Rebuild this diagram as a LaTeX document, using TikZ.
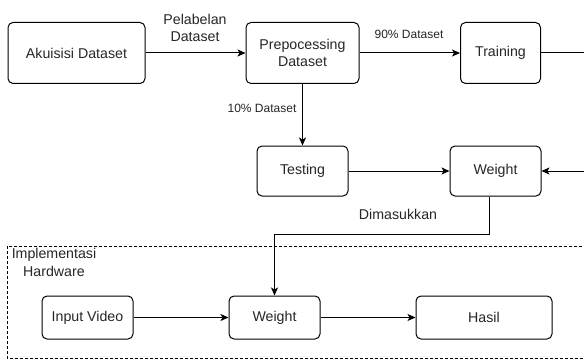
\documentclass[tikz,border=0pt]{standalone}
\usepackage{fontspec}
\setmainfont{Liberation Sans}
\usetikzlibrary{arrows.meta}
\usetikzlibrary{positioning}

\tikzset{
  box/.style={draw, rounded corners=5pt, line width=1pt, align=center,
    font=\fontsize{14.2}{17.5}\selectfont, text=black!85},
  flow/.style={line width=1pt, -{Stealth[length=8pt,width=7pt,inset=2pt]}},
  lbl/.style={font=\fontsize{14.2}{16.5}\selectfont, text=black!85, align=center},
  small lbl/.style={font=\fontsize{12}{13}\selectfont, text=black!85}
}

\begin{document}
\begin{tikzpicture}[x=1pt,y=-1pt]
\clip (0,0) rectangle (584,361);
\fill[white] (0,0) rectangle (584,361);

% hardware frame
\draw[dash pattern=on 3pt off 2pt, line width=0.7pt] (7,246) rectangle (620,358);
\node[lbl] (hw) at (54,262.5) {Implementasi\\[1pt]Hardware};

% top row
\node[box, minimum width=137pt, minimum height=61pt] (akuisisi) at (76.5,53) {Akuisisi Dataset};
\node[box, minimum width=113pt, minimum height=61pt] (prepro) at (302.5,53) {Prepocessing\\Dataset};
\node[box, minimum width=80pt, minimum height=61pt] (training) at (500.5,53) {Training};

% middle row
\node[box, minimum width=91pt, minimum height=50pt] (testing) at (302.5,171) {Testing};
\node[box, minimum width=91pt, minimum height=50pt] (weight) at (495.5,171) {Weight};

% bottom row
\node[box, minimum width=91pt, minimum height=43pt] (input) at (87.5,317.5) {Input Video};
\node[box, minimum width=91pt, minimum height=43pt] (weightb) at (274.5,317.5) {Weight};
\node[box, minimum width=136pt, minimum height=43pt] (hasil) at (484,317.5) {Hasil};

\coordinate (outT) at (600,53);
\coordinate (outW) at (600,171);
\coordinate (drop) at (489,234);

\draw[flow] (akuisisi) -- (prepro);
\node[lbl] (lblA) at (195,28) {Pelabelan\\Dataset};
\draw[flow] (prepro) -- (training);
\node[small lbl] (lblB) at (409,34) {90\% Dataset};
\draw[flow] (prepro) -- (testing);
\node[small lbl] (lblC) at (262,108) {10\% Dataset};
\draw[line width=1pt] (training) -- (outT);
\draw[flow] (outW) -- (weight);
\draw[flow] (testing) -- (weight);
\draw[flow] (weight.south -| drop) -- (drop) -| (weightb.north);
\node[lbl] (lblD) at (398,214) {Dimasukkan};

\draw[flow] (input) -- (weightb);
\draw[flow] (weightb) -- (hasil);

\end{tikzpicture}
\end{document}
